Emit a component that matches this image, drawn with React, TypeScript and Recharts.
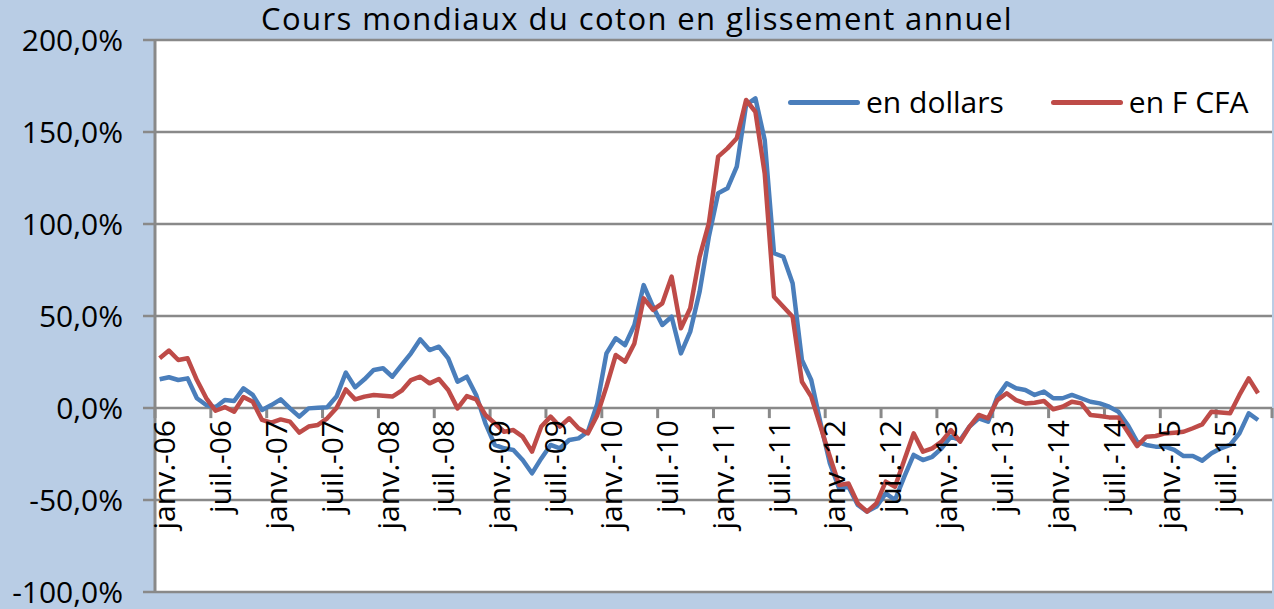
import React from "react";
import {
  LineChart,
  Line,
  XAxis,
  YAxis,
  CartesianGrid,
  ReferenceLine,
  ReferenceDot,
} from "recharts";

const monthNames = ["janv.", "févr.", "mars", "avr.", "mai", "juin", "juil.", "août", "sept.", "oct.", "nov.", "déc."];
const years = ["06", "07", "08", "09", "10", "11", "12", "13", "14", "15"];
const categories: string[] = years.flatMap((y) => monthNames.map((m) => `${m}-${y}`));

const dollars: (number | null)[] = [
  15.6, 16.7, 15.2, 16.1, 5.3, 1.6, 0.4, 4.3, 3.8, 10.7, 7.1, -1.1,
  1.6, 4.7, -0.2, -4.7, -0.2, 0.2, 0.4, 6.2, 19.2, 11.2, 15.6, 20.7,
  21.6, 17.0, 23.4, 29.7, 37.3, 31.5, 33.3, 27.0, 14.3, 17.0, 7.1, -8.3,
  -20.0, -21.9, -22.8, -28.3, -35.5, -27.4, -20.1, -21.9, -17.4, -16.5, -12.9, 2.0,
  29.7, 37.9, 34.2, 45.1, 66.8, 55.1, 45.1, 49.6, 29.7, 41.5, 63.0, 93.0,
  116.7, 119.4, 131.2, 164.7, 168.3, 145.7, 84.1, 82.2, 67.8, 26.1, 15.2, -8.3,
  -30.0, -43.7, -42.8, -52.7, -56.3, -53.6, -46.4, -50.0, -37.3, -25.5, -28.3, -26.5,
  -21.9, -15.6, -17.4, -10.1, -5.6, -7.4, 6.2, 13.4, 10.7, 9.8, 7.1, 8.9,
  5.3, 5.3, 7.1, 5.3, 3.4, 2.5, 0.7, -2.0, -9.2, -18.3, -20.1, -21.0,
  -21.0, -22.8, -26.1, -26.1, -28.6, -24.6, -21.9, -20.1, -13.8, -2.9, -6.5, null,
];

const fcfa: (number | null)[] = [
  27.0, 31.2, 26.1, 27.0, 15.2, 5.4, -1.5, 0.5, -2.0, 6.0, 3.4, -6.5,
  -8.0, -6.2, -7.4, -13.4, -10.1, -9.2, -5.6, 0.0, 10.1, 4.7, 6.2, 7.1,
  6.7, 6.2, 9.4, 15.2, 17.0, 13.4, 15.8, 9.8, -0.2, 6.5, 4.7, -3.8,
  -8.3, -12.9, -12.0, -15.6, -23.7, -10.1, -4.7, -10.1, -5.6, -11.0, -13.8, -4.0,
  11.6, 28.8, 25.2, 35.1, 59.6, 53.3, 56.9, 71.4, 43.3, 54.2, 82.0, 100.4,
  136.6, 141.1, 146.6, 167.4, 161.0, 127.5, 60.5, 55.0, 49.6, 14.3, 6.2, -10.1,
  -26.5, -41.8, -41.0, -51.8, -56.3, -51.8, -40.0, -42.8, -28.3, -13.8, -23.7, -21.9,
  -18.3, -12.0, -18.3, -10.1, -3.8, -5.6, 4.3, 8.0, 4.3, 2.5, 2.9, 3.8,
  -0.7, 0.7, 3.4, 2.5, -3.8, -4.3, -5.1, -5.1, -12.9, -20.7, -15.6, -15.2,
  -13.8, -13.4, -12.9, -11.0, -8.9, -2.0, -2.5, -2.9, 7.1, 16.1, 8.0, null,
];

const yTicks = [-100, -50, 0, 50, 100, 150, 200];
const labelEvery = 6;
const title = "Cours mondiaux du coton en glissement annuel";
const seriesNames = { dollars: "en dollars", fcfa: "en F CFA" };

const BLUE = "#4A7EBB";
const RED = "#BE4B48";
const GRAY = "#898989";
const FONT = "'Open Sans', sans-serif";

const data = categories.map((c, i) => ({
  x: i + 0.5,
  label: c,
  dollars: dollars[i],
  fcfa: fcfa[i],
}));

const tickPositions = Array.from({ length: categories.length / labelEvery + 1 }, (_, k) => k * labelEvery);
const labelIdx = categories.map((_, i) => i).filter((i) => i % labelEvery === 0);

const fmt = (v: number) => `${v.toFixed(1).replace(".", ",")}%`;

export default function App() {
  return (
    <div style={{ position: "absolute", left: 0, top: 0, width: 1274, height: 609, background: "#B9CDE5", overflow: "hidden" }}>
      <LineChart
        width={1274}
        height={609}
        data={data}
        margin={{ top: 40, right: 2, bottom: 17, left: 15 }}
      >
        <CartesianGrid vertical={false} stroke={GRAY} strokeWidth={2.5} fill="#ffffff" horizontalValues={yTicks} />
        <XAxis dataKey="x" type="number" domain={[0, categories.length]} hide />
        <YAxis
          type="number"
          domain={[-100, 200]}
          ticks={yTicks}
          width={140}
          interval={0}
          tickFormatter={fmt}
          axisLine={{ stroke: GRAY, strokeWidth: 3 }}
          tickLine={{ stroke: GRAY, strokeWidth: 2.5 }}
          tickSize={12}
          tickMargin={20}
          tick={{ fill: "#000", fontFamily: FONT, fontSize: 30 }}
        />
        {tickPositions.map((p) => (
          <ReferenceLine
            key={`t${p}`}
            segment={[{ x: p, y: 0 }, { x: p, y: -5.5 }]}
            stroke={GRAY}
            strokeWidth={3}
          />
        ))}
        {labelIdx.map((i) => (
          <ReferenceDot
            key={`l${i}`}
            x={i + 0.5}
            y={0}
            r={0}
            shape={(props: any) => (
              <text
                x={props.cx + 4}
                y={props.cy + 12}
                transform={`rotate(-90 ${props.cx + 4} ${props.cy + 12})`}
                textAnchor="end"
                dominantBaseline="central"
                fontFamily={FONT}
                fontSize={30}
                fill="#000"
              >
                {categories[i]}
              </text>
            )}
          />
        ))}
        <Line type="linear" dataKey="dollars" name={seriesNames.dollars} stroke={BLUE} strokeWidth={4.5} dot={false} isAnimationActive={false} strokeLinejoin="round" />
        <Line type="linear" dataKey="fcfa" name={seriesNames.fcfa} stroke={RED} strokeWidth={4.5} dot={false} isAnimationActive={false} strokeLinejoin="round" />
      </LineChart>
      <div
        style={{
          position: "absolute",
          left: 0,
          width: 1274,
          top: 3,
          textAlign: "center",
          fontFamily: FONT,
          fontSize: 31,
          lineHeight: "31px",
          letterSpacing: 1.4,
          color: "#000",
          whiteSpace: "nowrap",
        }}
      >
        {title}
      </div>
      <div
        style={{
          position: "absolute",
          top: 87,
          left: 788,
          display: "flex",
          alignItems: "center",
          fontFamily: FONT,
          fontSize: 30,
          lineHeight: "30px",
          color: "#000",
          whiteSpace: "nowrap",
        }}
      >
        <span style={{ display: "inline-block", width: 72, height: 5, background: BLUE, borderRadius: 3, marginRight: 6 }} />
        <span>{seriesNames.dollars}</span>
        <span style={{ display: "inline-block", width: 72, height: 5, background: RED, borderRadius: 3, marginLeft: 47, marginRight: 6 }} />
        <span>{seriesNames.fcfa}</span>
      </div>
    </div>
  );
}
